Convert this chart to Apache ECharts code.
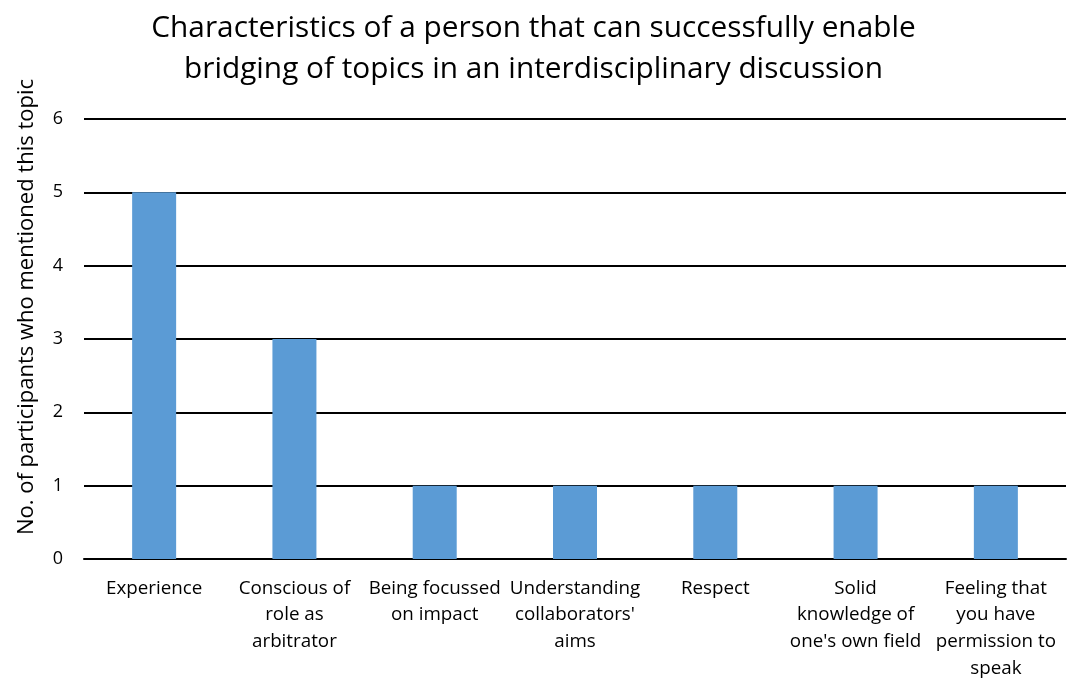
<!DOCTYPE html>
<html><head><meta charset="utf-8">
<script src="https://cdn.jsdelivr.net/npm/echarts@6/dist/echarts.min.js"></script>
<style>html,body{margin:0;padding:0;background:#fff}#c{width:1067px;height:678px}</style>
</head><body><div id="c"></div>
<script>
const categories = [
  "Experience",
  "Conscious of\nrole as\narbitrator",
  "Being focussed\non impact",
  "Understanding\ncollaborators'\naims",
  "Respect",
  "Solid\nknowledge of\none's own field",
  "Feeling that\nyou have\npermission to\nspeak"
];
const values = [5, 3, 1, 1, 1, 1, 1];
const titleText = "Characteristics of a person that can successfully enable\nbridging of topics in an interdisciplinary discussion";
const yAxisTitle = "No. of participants who mentioned this topic";

const font = "'Open Sans', sans-serif";
const chart = echarts.init(document.getElementById('c'), null, {renderer: 'canvas'});
chart.setOption({
  animation: false,
  backgroundColor: '#fff',
  title: {
    text: titleText,
    left: 'center',
    top: 3,
    textStyle: {fontFamily: font, fontSize: 29.8, fontWeight: 'normal', color: '#000', lineHeight: 41}
  },
  graphic: [{
    type: 'text',
    x: 27, y: 307,
    rotation: Math.PI / 2,
    style: {text: yAxisTitle, font: "22px 'Open Sans', sans-serif", fill: '#000', align: 'center', verticalAlign: 'middle'}
  }],
  grid: {left: 84, right: 1, top: 119, bottom: 119, containLabel: false, outerBoundsMode: 'none'},
  xAxis: {
    type: 'category',
    data: categories,
    axisLine: {show: true, lineStyle: {color: '#000', width: 2}},
    axisTick: {show: false},
    axisLabel: {interval: 0, fontFamily: font, fontSize: 18.8, color: '#000', lineHeight: 26.7, margin: 16}
  },
  yAxis: {
    type: 'value',
    min: 0, max: 6, interval: 1,
    axisLine: {show: false},
    axisTick: {show: false},
    splitLine: {show: true, lineStyle: {color: '#000', width: 2}},
    axisLabel: {fontFamily: font, fontSize: 18, color: '#000', margin: 21}
  },
  series: [{
    type: 'bar',
    data: values,
    barWidth: 44,
    itemStyle: {color: '#5B9BD5'}
  }]
});
</script></body></html>
